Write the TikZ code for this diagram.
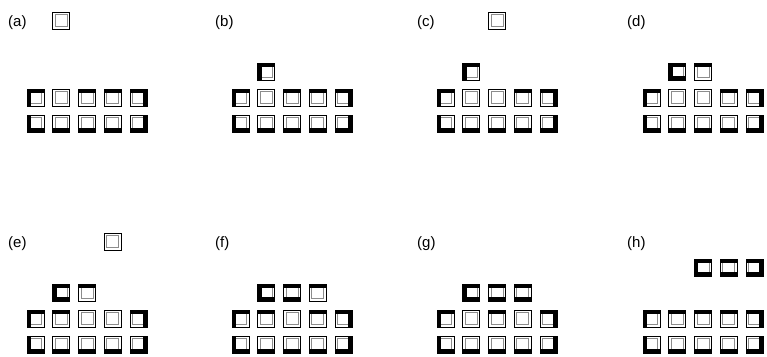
\documentclass[tikz,border=0pt]{standalone}
\usepackage{fontspec}
\setmainfont{Liberation Sans}
\usepackage{xcolor}
\definecolor{Shade}{HTML}{8C8C8C}

\tikzset{
  edgeline/.style={line width=0.8pt, black},
  shadeline/.style={line width=0.9pt, Shade},
  heavyline/.style={line width=3.8pt, black},
  lab/.style={font=\fontsize{15}{17}\selectfont, anchor=west, inner sep=0pt},
  cell/.pic={
    \draw[shadeline] (2.5,2.5) rectangle (14.5,14.5);
    \draw[edgeline] (0,0) rectangle (17,17);
  },
}

% heavy sides of a square whose corner is at (#1,#2)
\newcommand{\heavyl}[2]{\draw[heavyline] (#1+1.9,#2) -- (#1+1.9,#2+17);}
\newcommand{\heavyt}[2]{\draw[heavyline] (#1,#2+1.9) -- (#1+17,#2+1.9);}
\newcommand{\heavyr}[2]{\draw[heavyline] (#1+15.1,#2) -- (#1+15.1,#2+17);}
\newcommand{\heavyb}[2]{\draw[heavyline] (#1,#2+15.1) -- (#1+17,#2+15.1);}
\newcommand{\heavyn}[2]{}

% one square, with its heavy sides
\newcommand{\cellsq}[3]{%
  \pic at (#1,#2) {cell};
  \foreach \s in {#3} {\csname heavy\s\endcsname{#1}{#2}}
}
% the two rows of five; the lower row is always closed at the bottom
\newcommand{\boxtray}[7]{%
  \cellsq{#1}{#2}{#3}
  \cellsq{#1+25.8}{#2}{#4}
  \cellsq{#1+51.6}{#2}{#5}
  \cellsq{#1+77.4}{#2}{#6}
  \cellsq{#1+103.2}{#2}{#7}
  \foreach \c in {0,...,4} {
    \cellsq{#1+25.8*\c}{#2+26}{b}
  }
  \heavyl{#1}{#2+26}
  \heavyr{#1+103.2}{#2+26}
}

\begin{document}
\begin{tikzpicture}[x=1pt, y=-1pt]
  \useasboundingbox (0,0) rectangle (767,356);

  % upper panels
  \node[lab] (la) at (8,23) {(a)};
  \node[lab] (lb) at (215,23) {(b)};
  \node[lab] (lc) at (417,23) {(c)};
  \node[lab] (ld) at (627,23) {(d)};

  \cellsq{52.8}{12}{n}
  \boxtray{27}{89}{l,t}{n}{t}{t}{t,r}

  \cellsq{257.8}{63}{l,t}
  \boxtray{232}{89}{l,t}{n}{t}{t}{t,r}

  \cellsq{488.6}{12}{n}
  \cellsq{462.8}{63}{l,t}
  \boxtray{437}{89}{l,t}{n}{n}{t}{t,r}

  \cellsq{668.8}{63}{l,t,b}
  \cellsq{694.6}{63}{t}
  \boxtray{643}{89}{l,t}{n}{n}{t}{t,r}

  % lower panels
  \node[lab] (le) at (8,244) {(e)};
  \node[lab] (lf) at (215,244) {(f)};
  \node[lab] (lg) at (417,244) {(g)};
  \node[lab] (lh) at (627,244) {(h)};

  \cellsq{104.4}{233}{n}
  \cellsq{52.8}{284}{l,t,b}
  \cellsq{78.6}{284}{t}
  \boxtray{27}{310}{l,t}{t}{n}{n}{t,r}

  \cellsq{257.8}{284}{l,t,b}
  \cellsq{283.6}{284}{t,b}
  \cellsq{309.4}{284}{t}
  \boxtray{232}{310}{l,t}{t}{n}{t}{t,r}

  \cellsq{462.8}{284}{l,t,b}
  \cellsq{488.6}{284}{t,b}
  \cellsq{514.4}{284}{t,b}
  \boxtray{437}{310}{l,t}{n}{t}{n}{t,r}

  \cellsq{694.6}{259}{l,t,b}
  \cellsq{720.4}{259}{t,b}
  \cellsq{746.2}{259}{t,b,r}
  \boxtray{643}{310}{l,t}{t}{t}{t}{t,r}
\end{tikzpicture}
\end{document}
